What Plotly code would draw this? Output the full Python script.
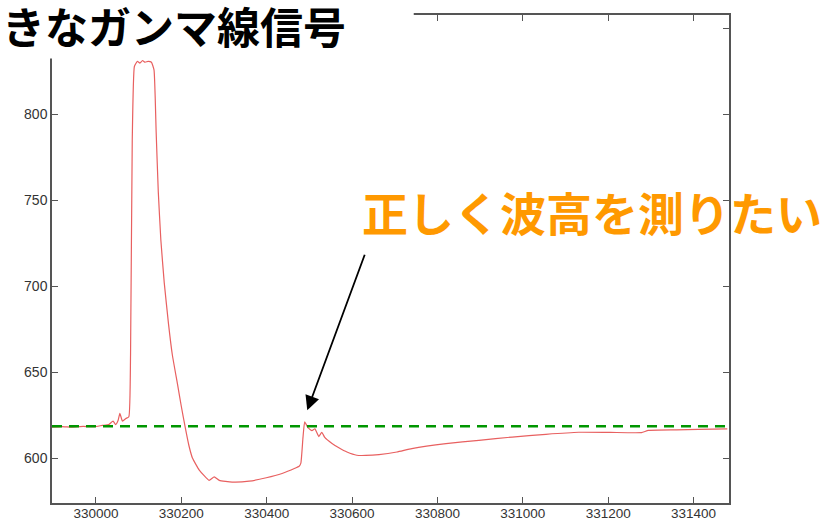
import plotly.graph_objects as go

# Pulse trace (sample index vs ADC value)
sample = [329897, 329920, 329945, 329970, 329995, 330015, 330030, 330040, 330046,
          330052, 330056, 330062, 330070, 330077, 330081, 330085, 330090, 330097,
          330103, 330109, 330115, 330122, 330130, 330136, 330141, 330146, 330152,
          330160, 330170, 330179, 330191, 330200, 330209, 330218, 330226, 330242,
          330265, 330277, 330289, 330319, 330359, 330399, 330436, 330466, 330476,
          330480, 330485, 330489, 330497, 330506, 330513, 330522, 330529, 330536,
          330553, 330569, 330588, 330611, 330632, 330663, 330705, 330740, 330820,
          330897, 330975, 331054, 331131, 331205, 331278, 331294, 331360, 331411,
          331479]
adc = [618.0, 618.3, 618.0, 618.4, 618.2, 619.0, 619.5, 621.5, 619.5,
       622.0, 626.0, 621.5, 623.0, 624.0, 660.0, 785.0, 828.0, 831.0,
       830.0, 831.5, 830.5, 831.0, 830.5, 826.0, 790.0, 755.0, 727.0,
       702.0, 678.0, 660.0, 643.0, 630.0, 618.0, 607.0, 600.0, 593.0,
       587.0, 589.0, 587.0, 586.0, 586.5, 588.5, 591.0, 594.0, 595.2,
       597.0, 612.0, 621.0, 617.5, 616.0, 617.0, 612.5, 615.0, 612.0,
       608.5, 606.0, 603.5, 601.6, 601.5, 602.0, 603.5, 605.5, 608.4,
       610.3, 612.2, 613.8, 615.0, 614.9, 614.8, 616.1, 616.4, 616.7,
       617.0]

baseline = 618.5
x_range = [329897, 331483]
y_range = [573.8, 858.0]
x_ticks = [330000, 330200, 330400, 330600, 330800, 331000, 331200, 331400]
y_ticks = [600, 650, 700, 750, 800, 850]
y_tick_text = ["600", "650", "700", "750", "800", ""]

title_text = "きなガンマ線信号"
note_text = "正しく波高を測りたい"
arrow_tip = (330495, 627.8)

# Plot-area geometry in pixels
W, H = 832, 523
L, R, T, B = 52, 729.5, 14.5, 503


def px(x):
    return (x - L) / (R - L)


def py(y):
    return (B - y) / (B - T)


fig = go.Figure()
fig.add_trace(go.Scatter(
    x=sample, y=adc, mode="lines",
    line=dict(color="rgb(232,96,96)", width=1.2, shape="spline", smoothing=0.4),
    hoverinfo="skip", showlegend=False,
))
fig.add_trace(go.Scatter(
    x=x_range, y=[baseline, baseline], mode="lines",
    line=dict(color="rgb(0,150,0)", width=2.5, dash="10px,7px"),
    hoverinfo="skip", showlegend=False,
))

axis_common = dict(
    showline=True, linecolor="#555", linewidth=1.5, mirror="ticks",
    ticks="inside", ticklen=6, tickwidth=1.2, tickcolor="#555",
    showgrid=False, zeroline=False, automargin=False,
)

fig.update_xaxes(range=x_range, tickvals=x_ticks,
                 ticktext=[str(v) for v in x_ticks], ticklabelstandoff=-3,
                 tickfont=dict(family="Liberation Sans, Arial, sans-serif", size=13.5, color="#333"),
                 **axis_common)
fig.update_yaxes(range=y_range, tickvals=y_ticks,
                 ticktext=y_tick_text,
                 tickfont=dict(family="Liberation Sans, Arial, sans-serif", size=14, color="#333"),
                 **axis_common)

# White title box laid over the top-left of the frame
fig.add_shape(type="rect", xref="paper", yref="paper",
              x0=px(0), x1=px(414), y0=py(58), y1=py(0),
              fillcolor="white", line=dict(width=0), layer="above")

fig.add_annotation(
    text=title_text, xref="paper", yref="paper",
    x=px(1), y=py(25), xanchor="left", yanchor="middle", showarrow=False,
    borderpad=0,
    font=dict(family="Noto Sans CJK JP", size=43, color="black", weight="bold"),
)
fig.add_annotation(
    text=note_text, xref="paper", yref="paper",
    x=px(592.5), y=py(210.5), xanchor="center", yanchor="middle", showarrow=False,
    font=dict(family="Noto Sans CJK JP", size=46, color="rgb(255,153,0)", weight="bold"),
)
fig.add_annotation(
    x=arrow_tip[0], y=arrow_tip[1], xref="x", yref="y",
    ax=58, ay=-157, axref="pixel", ayref="pixel",
    showarrow=True, arrowhead=2, arrowsize=1.6, arrowwidth=1.8,
    arrowcolor="black", standoff=0, text="",
)

fig.update_layout(
    width=W, height=H,
    margin=dict(l=L, r=W - R, t=T, b=H - B, pad=0, autoexpand=False),
    paper_bgcolor="white", plot_bgcolor="white",
    showlegend=False,
)

fig.write_html("out.html")
